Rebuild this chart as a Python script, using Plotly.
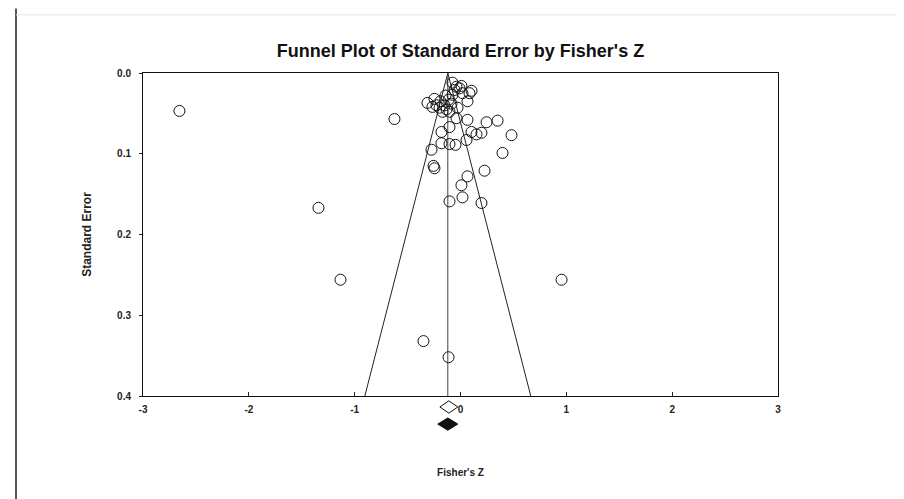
import plotly.graph_objects as go

# Study effect sizes (Fisher's Z) and standard errors
fisher_z = [
    -2.656, -1.342, -1.134, 0.955, -0.624, -0.350, -0.113,
    0.066, 0.246, 0.350, 0.482, -0.180, -0.104, 0.104, 0.151, 0.198,
    -0.180, -0.104, -0.047, 0.057, -0.274, 0.397, -0.255, -0.246,
    0.066, 0.227, 0.009, 0.019, -0.104, 0.198,
    -0.312, -0.265, -0.246, -0.227, -0.198, -0.170, -0.151, -0.113,
    -0.104, -0.076, -0.057, -0.038, -0.009, 0.009, 0.019, 0.085,
    0.066, 0.104, -0.028, -0.038, -0.142, -0.189, -0.085, -0.132, -0.076,
]
std_error = [
    0.047, 0.167, 0.256, 0.256, 0.057, 0.332, 0.352,
    0.058, 0.061, 0.059, 0.077, 0.073, 0.067, 0.073, 0.076, 0.074,
    0.087, 0.088, 0.089, 0.083, 0.095, 0.099, 0.115, 0.118,
    0.128, 0.121, 0.139, 0.154, 0.159, 0.161,
    0.037, 0.042, 0.032, 0.040, 0.043, 0.048, 0.040, 0.033,
    0.048, 0.027, 0.021, 0.017, 0.019, 0.016, 0.025, 0.025,
    0.035, 0.022, 0.043, 0.056, 0.028, 0.035, 0.038, 0.045, 0.012,
]

pooled_z = -0.12          # centre of the funnel
observed_z = -0.11        # open diamond
adjusted_z = -0.12        # filled diamond
max_se = 0.4

x_ticks = [-3, -2, -1, 0, 1, 2, 3]
y_ticks = [0.0, 0.1, 0.2, 0.3, 0.4]
y_tick_text = ["0.0", "0.1", "0.2", "0.3", "0.4"]

fig = go.Figure()

# funnel
fig.add_trace(go.Scatter(
    x=[pooled_z - 1.96 * max_se, pooled_z, pooled_z + 1.96 * max_se],
    y=[max_se, 0, max_se],
    mode="lines", line=dict(color="#222222", width=1), hoverinfo="skip",
))
fig.add_trace(go.Scatter(
    x=[pooled_z, pooled_z], y=[0, max_se],
    mode="lines", line=dict(color="#444444", width=1), hoverinfo="skip",
))

# studies
fig.add_trace(go.Scatter(
    x=fisher_z, y=std_error, mode="markers",
    marker=dict(symbol="circle-open", size=11, color="#111111",
                line=dict(width=1, color="#111111")),
))

def diamond(cx, cy, hw, hh):
    return (f"M {cx - hw} {cy} L {cx} {cy + hh} L {cx + hw} {cy} "
            f"L {cx} {cy - hh} Z")

shapes = [
    dict(type="path", xref="x", yref="paper",
         path=diamond(observed_z, -0.034, 0.085, 0.019),
         line=dict(color="#111111", width=1), fillcolor="white"),
    dict(type="path", xref="x", yref="paper",
         path=diamond(adjusted_z, -0.087, 0.095, 0.019),
         line=dict(color="#111111", width=1), fillcolor="#111111"),
    dict(type="line", xref="paper", yref="paper",
         x0=-0.2, x1=-0.2, y0=-0.36, y1=1.2,
         line=dict(color="#222222", width=1.5)),
    dict(type="line", xref="paper", yref="paper",
         x0=-0.2, x1=1.21, y0=1.18, y1=1.18,
         line=dict(color="#e6e6e6", width=1)),
]

fig.update_layout(
    width=904, height=499,
    margin=dict(l=135, r=134, t=65, b=111),
    paper_bgcolor="white", plot_bgcolor="white",
    showlegend=False,
    shapes=shapes,
    font=dict(family="Liberation Sans, Arial, sans-serif", color="#222222"),
    title=dict(text="<b>Funnel Plot of Standard Error by Fisher's Z</b>",
               x=0.5, xanchor="center", xref="paper", y=0.915, yanchor="middle",
               font=dict(size=18, color="#111111")),
    xaxis=dict(range=[-3, 3], tickvals=x_ticks,
               ticktext=[f"<b>{v}</b>" for v in x_ticks],
               ticks="inside", ticklen=4, tickcolor="#222222",
               showgrid=False, zeroline=False, showline=True,
               linecolor="#111111", linewidth=1, mirror=True,
               tickfont=dict(size=10, color="#222222"),
               ticklabelstandoff=4,
               title=dict(text="<b>Fisher's Z</b>", font=dict(size=10),
                          standoff=54)),
    yaxis=dict(range=[0.4, 0], tickvals=y_ticks,
               ticktext=[f"<b>{t}</b>" for t in y_tick_text],
               ticks="outside", ticklen=3, tickcolor="#222222",
               showgrid=False, zeroline=False, showline=True,
               linecolor="#111111", linewidth=1, mirror=True,
               tickfont=dict(size=10, color="#222222"),
               ticklabelstandoff=6,
               title=dict(text="<b>Standard Error</b>", font=dict(size=12),
                          standoff=22)),
)

fig.write_html("out.html")
